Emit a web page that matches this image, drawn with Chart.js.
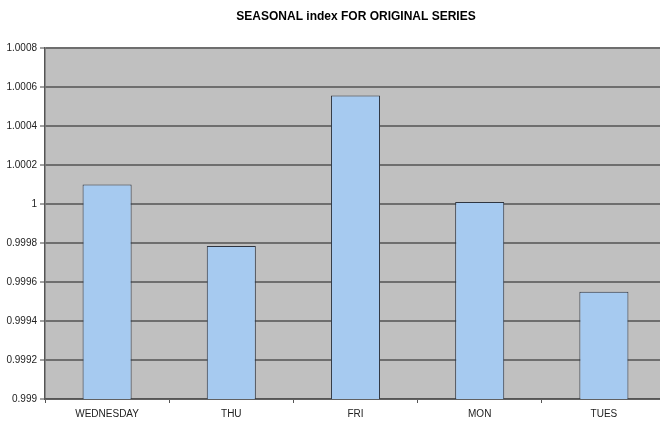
<!DOCTYPE html>
<html>
<head>
<meta charset="utf-8">
<script src="https://cdn.jsdelivr.net/npm/chart.js@4/dist/chart.umd.min.js"></script>
<style>
  html, body { margin: 0; padding: 0; background: #fff; overflow: hidden; }
  #wrap { width: 712px; height: 423px; }
</style>
</head>
<body>
<div id="wrap"><canvas id="grafico" width="712" height="423"></canvas></div>
<script>
// dias y sus indices estacionales
const dias = ['WEDNESDAY', 'THU', 'FRI', 'MON', 'TUES'];
const indices = [1.0001, 0.999785, 1.000557, 1.00001, 0.99955];
const marcasY = [0.999, 0.9992, 0.9994, 0.9996, 0.9998, 1, 1.0002, 1.0004, 1.0006, 1.0008];

// fondo gris del area de trazado
const fondoArea = {
  id: 'fondoArea',
  beforeDraw(chart) {
    const { ctx, chartArea } = chart;
    ctx.save();
    ctx.fillStyle = '#C0C0C0';
    ctx.fillRect(chartArea.left, chartArea.top, chartArea.right - chartArea.left, chartArea.bottom - chartArea.top);
    ctx.restore();
  }
};

const fuente = "'Liberation Sans', Arial, sans-serif";

const ctx = document.getElementById('grafico').getContext('2d');
const chart = new Chart(ctx, {
  type: 'bar',
  data: {
    labels: dias,
    datasets: [{
      label: 'Indice',
      data: indices,
      backgroundColor: '#A6CAF0',
      borderColor: '#2f3540',
      borderWidth: 1,
      categoryPercentage: 1,
      barPercentage: 0.395
    }]
  },
  options: {
    responsive: false,
    animation: false,
    layout: { padding: 0 },
    plugins: {
      legend: { display: false },
      tooltip: { enabled: false },
      title: {
        display: true,
        text: 'SEASONAL index FOR ORIGINAL SERIES',
        color: '#000',
        font: { family: fuente, size: 12, weight: 'bold' },
        padding: { top: 9, bottom: 24.6 }
      }
    },
    scales: {
      x: {
        offset: true,
        grid: {
          display: true,
          drawOnChartArea: false,
          drawTicks: true,
          tickLength: 4,
          tickColor: '#555',
          offset: true
        },
        border: { display: true, color: '#555', width: 1.5 },
        ticks: {
          color: '#222',
          font: { family: fuente, size: 10 },
          padding: 5,
          maxRotation: 0,
          autoSkip: false
        },
        afterFit(scale) { scale.height = 24; }
      },
      y: {
        min: 0.999,
        max: 1.0008,
        afterBuildTicks(axis) {
          axis.ticks = marcasY.map(v => ({ value: v }));
        },
        grid: {
          color: '#6e6e6e',
          lineWidth: 2,
          drawTicks: true,
          tickLength: 5,
          tickColor: '#444',
          tickWidth: 1
        },
        border: { display: true, color: '#555', width: 1.5 },
        ticks: {
          color: '#222',
          font: { family: fuente, size: 10 },
          padding: 3,
          callback: v => String(Number(v.toFixed(4)))
        },
        afterFit(scale) { scale.width = 45; }
      },
      // eje vacio a la derecha, solo reserva margen
      margenDer: {
        position: 'right',
        min: 0,
        max: 1,
        grid: { display: false },
        border: { display: false },
        ticks: { display: false },
        afterFit(scale) { scale.width = 46; }
      }
    }
  },
  plugins: [fondoArea]
});
</script>
</body>
</html>
